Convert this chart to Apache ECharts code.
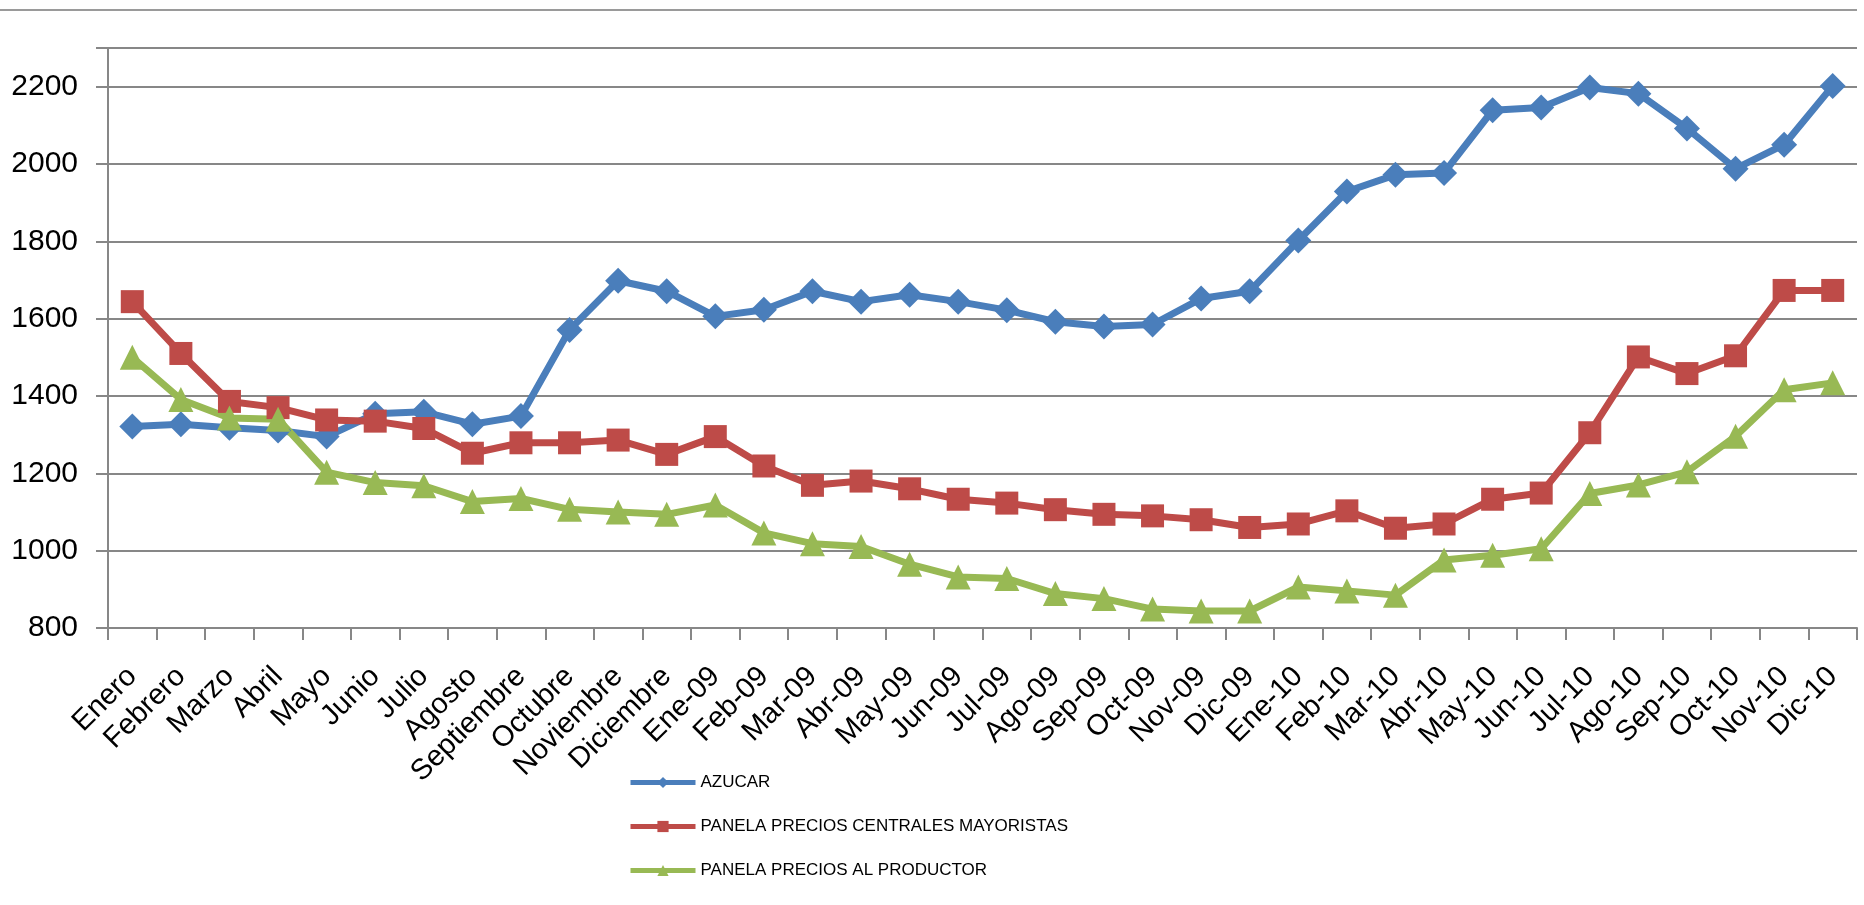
<!DOCTYPE html>
<html>
<head>
<meta charset="utf-8">
<script src="https://cdn.jsdelivr.net/npm/echarts@6/dist/echarts.min.js"></script>
<style>
html,body{margin:0;padding:0;background:#fff;}
#chart{width:1864px;height:905px;}
</style>
</head>
<body>
<div id="chart"></div>
<script>
const categories = ['Enero','Febrero','Marzo','Abril','Mayo','Junio','Julio','Agosto','Septiembre','Octubre','Noviembre','Diciembre',
  'Ene-09','Feb-09','Mar-09','Abr-09','May-09','Jun-09','Jul-09','Ago-09','Sep-09','Oct-09','Nov-09','Dic-09',
  'Ene-10','Feb-10','Mar-10','Abr-10','May-10','Jun-10','Jul-10','Ago-10','Sep-10','Oct-10','Nov-10','Dic-10'];

const azucar = [1321,1327,1318,1311,1295,1354,1359,1327,1348,1571,1698,1671,
  1606,1623,1671,1644,1662,1644,1622,1592,1580,1585,1652,1671,
  1802,1929,1972,1977,2139,2146,2198,2182,2092,1988,2050,2202];

const panelaMayoristas = [1644,1510,1386,1370,1338,1335,1316,1252,1279,1279,1286,1249,
  1295,1219,1169,1180,1160,1133,1123,1106,1094,1090,1080,1060,
  1069,1103,1058,1069,1133,1149,1305,1501,1458,1504,1673,1673];

const panelaProductor = [1500,1391,1343,1340,1203,1176,1168,1127,1135,1107,1100,1094,
  1118,1046,1018,1011,965,932,928,889,876,849,844,844,
  906,896,885,976,988,1005,1148,1170,1204,1296,1416,1434];

const seriesNames = ['AZUCAR','PANELA PRECIOS CENTRALES MAYORISTAS','PANELA PRECIOS AL PRODUCTOR'];
const yTicks = {min: 800, max: 2300, interval: 200};

const chart = echarts.init(document.getElementById('chart'));
const gridColor = '#878787';
function mk(name, data, color, symbol, size){
  return {
    name: name, type: 'line', data: data,
    symbol: symbol, symbolSize: size,
    lineStyle: {color: color, width: 7},
    itemStyle: {color: color},
    emphasis: {disabled: true},
    animation: false
  };
}
chart.setOption({
  animation: false,
  graphic: [{
    type: 'line', shape: {x1: 0, y1: 10, x2: 1857, y2: 10},
    style: {stroke: '#9a9a9a', lineWidth: 2}
  }],
  grid: {left: 108, right: 7, top: 48, bottom: 277},
  legend: {
    orient: 'vertical', left: 623, top: 769,
    itemWidth: 65, itemHeight: 14, itemGap: 27,
    lineStyle: {width: 5},
    textStyle: {fontFamily: "'Liberation Sans',sans-serif", fontSize: 17, color: '#000'},
    data: seriesNames
  },
  xAxis: {
    type: 'category', data: categories, boundaryGap: true,
    axisLine: {lineStyle: {color: gridColor, width: 2}},
    axisTick: {show: true, length: 12, alignWithLabel: false, lineStyle: {color: gridColor, width: 2}},
    axisLabel: {rotate: 45, interval: 0, margin: 44, color: '#000', fontSize: 29, fontFamily: "'Liberation Sans',sans-serif"}
  },
  yAxis: {
    type: 'value', min: yTicks.min, max: yTicks.max, interval: yTicks.interval,
    axisLine: {show: true, lineStyle: {color: gridColor, width: 2}},
    axisTick: {show: true, length: 12, lineStyle: {color: gridColor, width: 2}},
    splitLine: {lineStyle: {color: gridColor, width: 2}},
    axisLabel: {margin: 30, color: '#000', fontSize: 30, fontFamily: "'Liberation Sans',sans-serif",
      formatter: function(v){ return v > 2200 ? '' : String(v); }}
  },
  series: [
    mk(seriesNames[0], azucar, '#4A7EBB', 'diamond', 26),
    mk(seriesNames[1], panelaMayoristas, '#BE4B48', 'rect', 23),
    mk(seriesNames[2], panelaProductor, '#98B954', 'triangle', 25)
  ]
});
</script>
</body>
</html>
